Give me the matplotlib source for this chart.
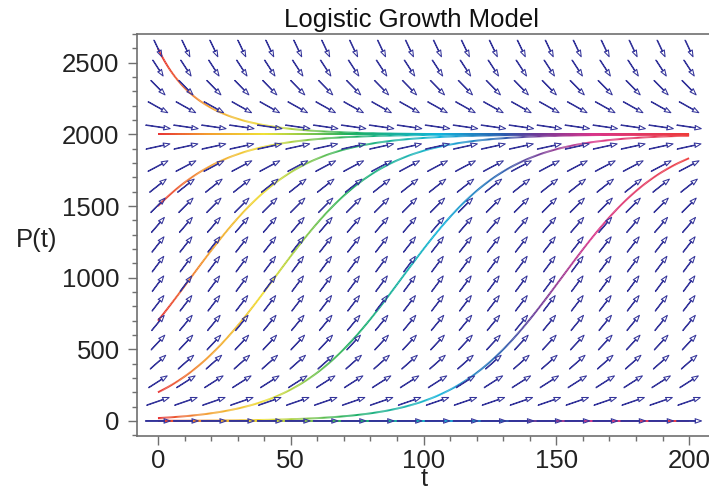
import numpy as np
import matplotlib
matplotlib.use("Agg")
import matplotlib.pyplot as plt
from matplotlib.collections import LineCollection
from matplotlib.colors import LinearSegmentedColormap
from matplotlib.ticker import MultipleLocator

plt.rcParams['font.family'] = ['Liberation Sans', 'DejaVu Sans']

# model: dP/dt = r P (1 - P/K)
r = 0.05
K = 2000.0
initial_values = [2600, 2000, 1500, 700, 200, 20, 1, 0]
t_range = (0, 200)
p_range = (0, 2600)
n_grid = 20
x_ticks = [0, 50, 100, 150, 200]
y_ticks = [0, 500, 1000, 1500, 2000, 2500]

# hue ramp along t, as it looks in the original
hue_stops = [0.0, 0.09, 0.2, 0.36, 0.53, 0.65, 0.71, 0.82, 1.0]
hue_cols = ['#e83030', '#f39a2a', '#efe030', '#1aae5c', '#12b4dc',
            '#2a5cae', '#6a3a98', '#d8348a', '#ee3a3a']

navy = '#34349a'
grey = '#707070'


def logistic(t, p0):
    if p0 == 0:
        return np.zeros_like(t)
    return K / (1 + (K - p0) / p0 * np.exp(-r * t))


cmap = LinearSegmentedColormap.from_list('maple_hue', list(zip(hue_stops, hue_cols)))

fig = plt.figure(figsize=(7.09, 4.86), dpi=100)
ax = fig.add_axes([0.1932, 0.1029, 0.8068, 0.8281])

# solution curves coloured along t
t = np.linspace(t_range[0], t_range[1], 500)
tm = 0.5 * (t[:-1] + t[1:])
cols = cmap((tm - t_range[0]) / (t_range[1] - t_range[0]))
for p0 in initial_values:
    p = logistic(t, p0)
    pts = np.column_stack([t, p]).reshape(-1, 1, 2)
    segs = np.concatenate([pts[:-1], pts[1:]], axis=1)
    ax.add_collection(LineCollection(segs, colors=cols, linewidths=1.4, zorder=2))

# direction field, arrows of equal length in range-normalised units
tg = np.linspace(t_range[0], t_range[1], n_grid)
pg = np.linspace(p_range[0], p_range[1], n_grid)
T, P = np.meshgrid(tg, pg)
F = r * P * (1 - P / K)
wt = t_range[1] - t_range[0]
wp = p_range[1] - p_range[0]
u = 1.0 / wt
v = F / wp
nrm = np.sqrt(u ** 2 + v ** 2)
L = 0.047
U = u / nrm * L * wt
V = v / nrm * L * wp
ax.quiver(T, P, U, V, angles='xy', scale_units='xy', scale=1, pivot='middle',
          units='dots', width=0.5, headwidth=9, headlength=13, headaxislength=12,
          facecolor='none', edgecolor=navy, linewidth=0.75, zorder=3)

ax.set_xlim(-7.9, 207.5)
ax.set_ylim(-105, 2704)

ax.spines['right'].set_visible(False)
for s in ['left', 'bottom', 'top']:
    ax.spines[s].set_color(grey)
    ax.spines[s].set_linewidth(1.2)

ax.set_xticks(x_ticks)
ax.set_yticks(y_ticks)
ax.xaxis.set_minor_locator(MultipleLocator(10))
ax.yaxis.set_minor_locator(MultipleLocator(100))
ax.tick_params(which='major', length=6.5, width=1.0, color=grey, labelsize=18.5,
               labelcolor='#222222', direction='out')
ax.tick_params(which='minor', length=3.5, width=1.0, color=grey, direction='out')
ax.tick_params(axis='y', which='major', pad=6)
ax.tick_params(axis='x', which='major', pad=3)
ax.tick_params(top=False, right=False, which='both')

fig.text(411 / 709, 1 - 27 / 486, 'Logistic Growth Model', fontsize=18.5,
         ha='center', va='baseline', color='#111111')
fig.text(16 / 709, 1 - 240 / 486, 'P(t)', fontsize=18.5, ha='left', va='center',
         color='#222222')
fig.text(424 / 709, 0.0, 't', fontsize=18.5, ha='center', va='baseline',
         color='#222222')

plt.savefig('out.png', dpi=100)
